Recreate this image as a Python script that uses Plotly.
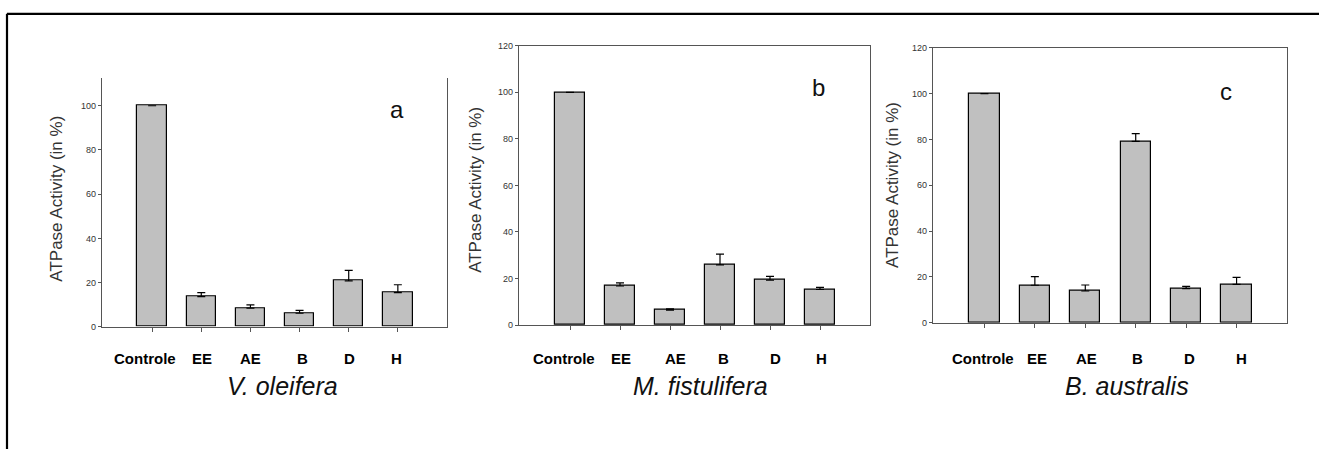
import plotly.graph_objects as go

# ATPase activity (% of control) for each plant extract fraction
categories = ["Controle", "EE", "AE", "B", "D", "H"]

v_oleifera = [100, 13.6, 8.4, 6.1, 20.8, 15.4]
v_oleifera_err = [0, 1.8, 1.5, 1.3, 4.7, 3.6]

m_fistulifera = [100, 16.8, 6.4, 25.9, 19.3, 15.3]
m_fistulifera_err = [0, 1.3, 0.6, 4.6, 1.6, 0.9]

b_australis = [100, 16.4, 13.9, 79.2, 14.9, 16.8]
b_australis_err = [0, 3.8, 2.6, 3.3, 1.0, 3.0]

species = ["V. oleifera", "M. fistulifera", "B. australis"]
panel_letters = ["a", "b", "c"]
y_title = "ATPase Activity (in %)"

W, H = 1319, 454
FONT = "Arial, Liberation Sans, sans-serif"


def px_x(x):
    return x / W


def px_y(y):
    return 1 - y / H


# panel geometry in pixels: left, right, top, bottom, y max, mirror top
panels = [
    dict(l=102, r=447, t=75, b=329, ymax=112.4, top=False,
         ytitle=(57, 198), letter=(397, 107), sp=(282, 390),
         shifts=[-7, 1, 0, 3, 1, -1]),
    dict(l=519, r=870, t=41.7, b=327.3, ymax=120, top=True,
         ytitle=(476, 189), letter=(818, 84), sp=(700, 390),
         shifts=[-6, 1, 5, 3, 5, 1]),
    dict(l=933, r=1287, t=43.7, b=325, ymax=120, top=True,
         ytitle=(893, 184), letter=(1226, 88), sp=(1127, 390),
         shifts=[-1, 2, 1, 2, 3, 5]),
]

series = [(v_oleifera, v_oleifera_err),
          (m_fistulifera, m_fistulifera_err),
          (b_australis, b_australis_err)]

fig = go.Figure()
annotations = []
xpos = list(range(len(categories)))

for i, (p, (vals, errs)) in enumerate(zip(panels, series)):
    n = "" if i == 0 else str(i + 1)
    fig.add_trace(go.Bar(
        x=xpos, y=vals, width=0.6,
        marker=dict(color="#c0c0c0", line=dict(color="#000000", width=1.2)),
        error_y=dict(type="data", symmetric=False, array=errs,
                     arrayminus=[0] * len(errs), color="#000000",
                     thickness=1.2, width=4),
        xaxis="x" + n, yaxis="y" + n, showlegend=False,
    ))
    fig.layout["xaxis" + n] = dict(
        domain=[px_x(p["l"]), px_x(p["r"])], anchor="y" + n,
        range=[-1.02, 6], tickvals=xpos, showticklabels=False,
        ticks="outside", ticklen=4, tickcolor="#555", tickwidth=1,
        showline=True, linecolor="#555", linewidth=1.2,
        mirror=p["top"], showgrid=False, zeroline=False, fixedrange=True,
    )
    fig.layout["yaxis" + n] = dict(
        domain=[px_y(p["b"]), px_y(p["t"])], anchor="x" + n,
        range=[0, p["ymax"]], tickvals=[0, 20, 40, 60, 80, 100, 120],
        ticks="outside", ticklen=3, tickcolor="#555", tickwidth=1,
        tickfont=dict(family=FONT, size=9, color="#333"),
        showline=True, linecolor="#555", linewidth=1.2, mirror=True,
        showgrid=False, zeroline=False, fixedrange=True,
    )
    # category labels under the ticks
    for k, (c, s) in enumerate(zip(categories, p["shifts"])):
        annotations.append(dict(
            x=k, y=px_y(361), xref="x" + n, yref="paper", text=c,
            showarrow=False, xshift=s, xanchor="center", yanchor="middle",
            font=dict(family=FONT, size=15, color="#000", weight="bold"),
        ))
    # y-axis title
    annotations.append(dict(
        x=px_x(p["ytitle"][0]), y=px_y(p["ytitle"][1]), xref="paper",
        yref="paper", text=y_title, textangle=-90, showarrow=False,
        xanchor="center", yanchor="middle",
        font=dict(family=FONT, size=17, color="#333"),
    ))
    # panel letter
    annotations.append(dict(
        x=px_x(p["letter"][0]), y=px_y(p["letter"][1]), xref="paper",
        yref="paper", text=panel_letters[i], showarrow=False,
        xanchor="center", yanchor="middle",
        font=dict(family=FONT, size=24, color="#111"),
    ))
    # species name
    annotations.append(dict(
        x=px_x(p["sp"][0]), y=px_y(p["sp"][1]), xref="paper",
        yref="paper", text="<i>" + species[i] + "</i>", showarrow=False,
        xanchor="center", yanchor="middle",
        font=dict(family=FONT, size=25, color="#111"),
    ))

# outer frame (top and left edges)
shapes = [
    dict(type="line", xref="paper", yref="paper", x0=px_x(7), x1=1.0,
         y0=px_y(9), y1=px_y(9), line=dict(color="#000", width=2.2)),
    dict(type="line", xref="paper", yref="paper", x0=px_x(7), x1=px_x(7),
         y0=px_y(9), y1=0, line=dict(color="#000", width=2.2)),
]

fig.update_layout(
    width=W, height=H, margin=dict(l=0, r=0, t=0, b=0),
    paper_bgcolor="white", plot_bgcolor="white",
    annotations=annotations, shapes=shapes, bargap=0,
)

fig.write_html("out.html")
